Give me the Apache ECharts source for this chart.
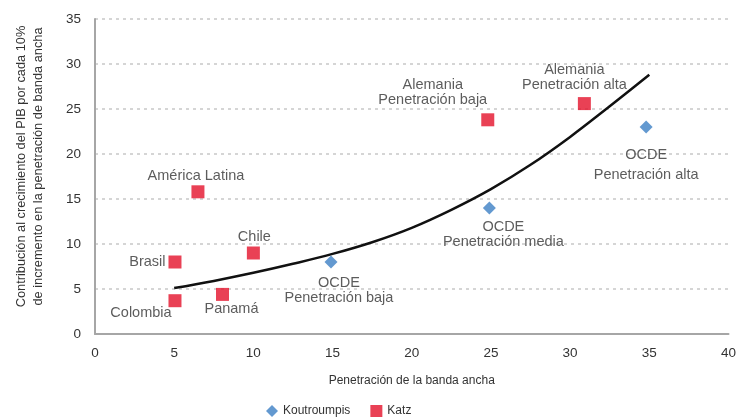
<!DOCTYPE html>
<html><head><meta charset="utf-8">
<script src="https://cdn.jsdelivr.net/npm/echarts@6/dist/echarts.min.js"></script>
<style>html,body{margin:0;padding:0;background:#fff}#c{width:739px;height:417px}</style>
</head><body><div id="c"></div>
<script>
// Data
const katzNames = ['América Latina','Brasil','Chile','Colombia','Panamá','Alemania\nPenetración baja','Alemania\nPenetración alta'];
const katzX = [6.5, 5.05, 10, 5.05, 8.05, 24.8, 30.9];
const katzY = [15.8, 8.0, 9.0, 3.7, 4.4, 23.8, 25.6];
const koutNames = ['OCDE\nPenetración baja','OCDE\nPenetración media','OCDE\nPenetración alta'];
const koutX = [14.9, 24.9, 34.8];
const koutY = [8.0, 14.0, 23.0];
const trendX = [5, 7.5, 10, 12.5, 15, 17.5, 20, 22.5, 25, 27.5, 30, 32.5, 35];
const trendY = [5.1, 5.9, 6.8, 7.8, 8.9, 10.2, 11.8, 13.8, 16.1, 18.8, 21.9, 25.3, 28.8];
const xTicks = [0, 40, 5];
const yTicks = [0, 35, 5];

const katzLabel = [
  {position:'top', offset:[-2,3]},
  {position:'left', distance:3},
  {position:'top', offset:[1,3]},
  {position:'bottom', offset:[-34,-7]},
  {position:'bottom', offset:[9,-4]},
  {position:'top', offset:[-55,-1]},
  {position:'top', offset:[-10,0]}
];
const koutLabel = [
  {position:'bottom', offset:[8,2]},
  {position:'bottom', offset:[14,0]},
  {position:'bottom', offset:[0,6], lineHeight:20}
];
const txt = '#333333';
const lab = {show:true, color:txt, fontSize:14.5, lineHeight:15, fontFamily:'Liberation Sans, Arial, sans-serif', formatter: p => p.name};

const chart = echarts.init(document.getElementById('c'));
chart.setOption({
  animation:false,
  textStyle:{fontFamily:'Liberation Sans, Arial, sans-serif'},
  grid:{left:95, right:6, top:19, bottom:83},
  legend:{top:400, left:261, itemWidth:12, itemHeight:12, itemGap:20,
    textStyle:{color:txt, fontSize:12},
    data:['Koutroumpis','Katz']},
  xAxis:{type:'value', min:xTicks[0], max:xTicks[1], interval:xTicks[2],
    name:'Penetración de la banda ancha', nameLocation:'middle', nameGap:41,
    nameTextStyle:{color:txt, fontSize:12},
    axisLine:{lineStyle:{color:'#a6a6a6', width:2}}, axisTick:{show:false},
    axisLabel:{color:txt, fontSize:13.5, margin:12}, splitLine:{show:false}},
  yAxis:{type:'value', min:yTicks[0], max:yTicks[1], interval:yTicks[2],
    name:'Contribución al crecimiento del PIB por cada 10%\nde incremento en la penetración de banda ancha',
    nameLocation:'middle', nameGap:48,
    nameTextStyle:{color:txt, fontSize:12.8, lineHeight:17, padding:[0,0,0,20]},
    axisLine:{show:true, lineStyle:{color:'#a6a6a6', width:2}}, axisTick:{show:false},
    axisLabel:{color:txt, fontSize:13.5, margin:14},
    splitLine:{lineStyle:{color:'#c8c8c8', type:[3,4], width:1.5}}},
  series:[
    {name:'Trend', type:'line', smooth:0.4, symbol:'none', silent:true,
      lineStyle:{color:'#111', width:2.5},
      data: trendX.map((x,i)=>[x, trendY[i]]), z:3},
    {name:'Koutroumpis', type:'scatter', symbol:'diamond', symbolSize:13,
      itemStyle:{color:'#3c7fc4'},
      data: koutX.map((x,i)=>({name:koutNames[i], value:[x, koutY[i]], label:Object.assign({}, lab, koutLabel[i])})), z:4},
    {name:'Katz', type:'scatter', symbol:'rect', symbolSize:13,
      itemStyle:{color:'#e3122b'},
      data: katzX.map((x,i)=>({name:katzNames[i], value:[x, katzY[i]], label:Object.assign({}, lab, katzLabel[i])})), z:4}
  ]
});
</script></body></html>
